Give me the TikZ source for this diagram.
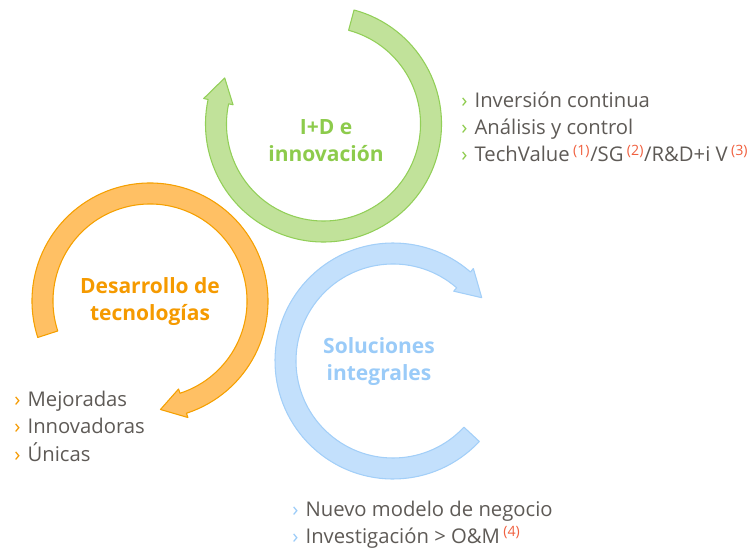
\documentclass[tikz,border=0pt]{standalone}
\usepackage{fontspec}
\setmainfont{Open Sans}
\usepackage{xcolor}

\definecolor{idgreen}{HTML}{8DCB4C}
\definecolor{idfill}{HTML}{C1E29A}
\definecolor{idline}{HTML}{92CF58}
\definecolor{desorange}{HTML}{F59A00}
\definecolor{desfill}{HTML}{FFC064}
\definecolor{desline}{HTML}{F5A000}
\definecolor{solblue}{HTML}{9ACBF8}
\definecolor{solfill}{HTML}{C3E0FC}
\definecolor{solline}{HTML}{A3CFF8}
\definecolor{txtgray}{HTML}{5E5A56}
\definecolor{supred}{HTML}{F0603F}

\newcommand{\bul}[1]{\makebox[10pt][l]{\textcolor{#1}{›}}}
\newcommand{\note}[1]{\,\textsuperscript{\textcolor{supred}{(#1)}}}

\begin{document}
\begin{tikzpicture}[x=0.75pt, y=0.75pt,
    ring/.style={line width=0.8pt, line join=round},
    title/.style={font=\fontsize{15.75}{20.25}\selectfont\bfseries, align=center},
    list/.style={font=\fontsize{15.2}{20.6}\selectfont, text=txtgray, align=left, anchor=base west, inner sep=0pt}]

\useasboundingbox (0,0) rectangle (748,550);

\coordinate (idc) at (323.5,426);
\coordinate (desc) at (150,249);
\coordinate (solc) at (393,189);

% I+D ring
\begin{scope}[shift={(idc)}]
\filldraw[ring, fill=idfill, draw=idline] (75:118) arc[start angle=75, end angle=-192, radius=118]
    -- (-192:122.5) -- (-205:109) -- (-192:92.5) -- (-192:97)
    arc[start angle=-192, end angle=75, radius=97] -- cycle;
\end{scope}

% Desarrollo ring
\begin{scope}[shift={(desc)}]
\filldraw[ring, fill=desfill, draw=desline] (198:118) arc[start angle=198, end angle=-72, radius=118]
    -- (-72:122.5) -- (-84.5:109) -- (-72:92.5) -- (-72:97)
    arc[start angle=-72, end angle=198, radius=97] -- cycle;
\end{scope}

% Soluciones ring
\begin{scope}[shift={(solc)}]
\filldraw[ring, fill=solfill, draw=solline] (-43:118) arc[start angle=-43, end angle=-311, radius=118]
    -- (-311:122.5) -- (-324.5:109) -- (-311:92.5) -- (-311:97)
    arc[start angle=-311, end angle=-43, radius=97] -- cycle;
\end{scope}

% Titles
\node[title, text=idgreen] (idtitle) at (326,409) {I+D e\\innovación};
\node[title, text=desorange] (destitle) at (150,248) {Desarrollo de\\tecnologías};
\node[title, text=solblue] (soltitle) at (379,188) {Soluciones\\integrales};

% Lists (base = last line)
\node[list] (idlist) at (461,388) {
    \bul{idgreen}Inversión continua\\
    \bul{idgreen}Análisis y control\\
    \bul{idgreen}TechValue\note{1}/SG\note{2}/R\&D+i V\note{3}};
\node[list] (deslist) at (14,89) {
    \bul{desorange}Mejoradas\\
    \bul{desorange}Innovadoras\\
    \bul{desorange}Únicas};
\node[list] (sollist) at (292,6.5) {
    \bul{solblue}Nuevo modelo de negocio\\
    \bul{solblue}Investigación > O\&M\note{4}};

\end{tikzpicture}
\end{document}
